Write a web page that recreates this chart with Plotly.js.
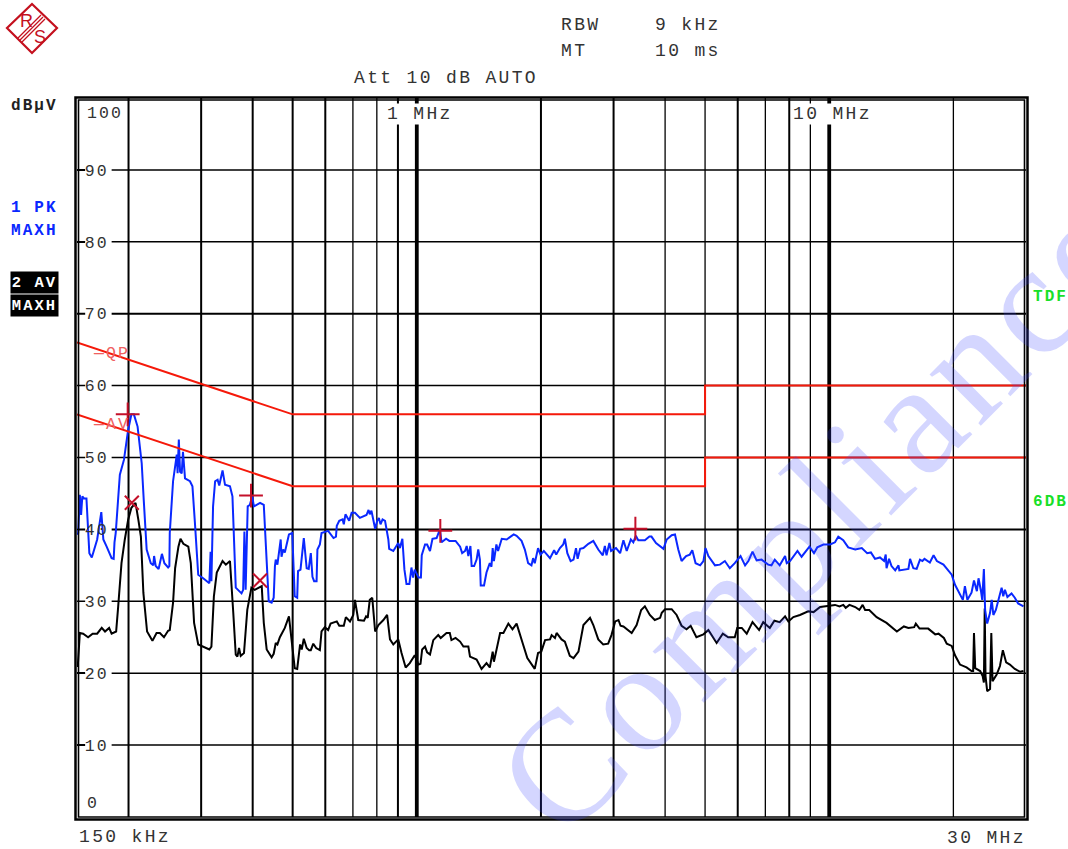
<!DOCTYPE html>
<html>
<head>
<meta charset="utf-8">
<script src="https://cdn.plot.ly/plotly-3.0.1.min.js"></script>
<style>
html,body{margin:0;padding:0;background:#fff;overflow:hidden}
#plot{width:1068px;height:849px}
svg text{letter-spacing:.13em}
svg text[style*="Liberation Serif"]{letter-spacing:.04em}
svg text[style*="Liberation Sans"]{letter-spacing:0}
</style>
</head>
<body>
<div id="plot"></div>
<script>
// [log10(Hz), dBuV]
const peakTrace=[[5.176,39.3],[5.179,39.5],[5.183,44.8],[5.186,42],[5.189,44.6],[5.193,44.3],[5.199,44.3],[5.206,36.7],[5.212,36.1],[5.225,38.6],[5.235,42.4],[5.240,38.6],[5.248,37.6],[5.260,36],[5.265,35.9],[5.267,38.2],[5.270,39.5],[5.280,47.6],[5.290,49.7],[5.300,53.8],[5.308,56],[5.314,56],[5.323,54.3],[5.333,49.2],[5.338,44],[5.345,37.2],[5.355,35.3],[5.361,35],[5.363,36.3],[5.367,34.9],[5.374,34.5],[5.382,36.6],[5.388,35.3],[5.397,34.7],[5.400,34.9],[5.401,39.5],[5.409,46.7],[5.418,50.4],[5.420,47.8],[5.423,52.5],[5.426,48],[5.430,47.8],[5.433,50.8],[5.438,47.1],[5.450,46.7],[5.456,46],[5.462,40.9],[5.470,33.7],[5.482,33.2],[5.497,32.5],[5.500,36.9],[5.502,32.8],[5.506,43.2],[5.511,46.7],[5.517,46.9],[5.521,46.1],[5.529,48.2],[5.535,46.2],[5.547,46],[5.553,44.6],[5.561,31.9],[5.575,31.1],[5.579,31.6],[5.582,39.7],[5.585,31.6],[5.590,43.2],[5.595,43.4],[5.601,44.6],[5.605,43.2],[5.611,43.4],[5.620,43.7],[5.629,43.4],[5.641,30],[5.648,29.8],[5.653,30.5],[5.656,34.9],[5.658,35.8],[5.662,35.1],[5.670,38.6],[5.672,36.2],[5.676,37.2],[5.680,36.8],[5.690,39.3],[5.698,39.5],[5.704,30.7],[5.710,30.5],[5.712,34.2],[5.718,34.4],[5.726,38.8],[5.733,34.6],[5.738,34.5],
[5.743,36.7],[5.747,33.4],[5.751,32.8],[5.757,32.8],[5.759,37.2],[5.765,37.9],[5.769,39.5],[5.785,39.8],[5.798,38.8],[5.804,39],[5.806,40.5],[5.812,41.2],[5.820,41.4],[5.823,40.7],[5.827,42.1],[5.836,41.2],[5.842,42.3],[5.850,42.3],[5.862,41.6],[5.878,42],[5.883,42.7],[5.886,42.1],[5.890,42.6],[5.899,40.1],[5.904,41.2],[5.908,41.6],[5.912,40.7],[5.917,41.4],[5.923,41.2],[5.931,38.6],[5.933,37.3],[5.943,37],[5.955,38.1],[5.959,37.4],[5.965,38.7],[5.970,34.4],[5.975,32.4],[5.982,32.4],[5.987,34.7],[5.991,33.3],[5.995,34.4],[6.004,33.3],[6.010,33.3],[6.012,36.4],[6.020,37.9],[6.025,37.9],[6.032,37],[6.038,38.7],[6.048,38.8],[6.056,40],[6.060,38.2],[6.071,38.7],[6.079,38.4],[6.094,38.4],[6.105,37.6],[6.110,36.7],[6.117,37],[6.121,37.7],[6.125,36.3],[6.130,37.7],[6.133,34.9],[6.139,34.9],[6.145,35.8],[6.149,37.2],[6.153,35.8],[6.155,32.2],[6.163,32.2],[6.169,34],[6.177,35.3],[6.181,34.8],[6.184,37.4],[6.187,35.6],[6.193,37.9],[6.197,37],[6.206,38.7],[6.218,38.6],[6.230,39.1],[6.235,39.3],[6.242,39.1],[6.254,38.4],[6.262,37.2],[6.270,35.3],[6.278,35],[6.282,36],[6.286,35.3],[6.294,37.4],[6.300,36.5],[6.308,37],[6.323,36],
[6.333,37.1],[6.338,36.5],[6.347,37.4],[6.355,37.9],[6.359,38.7],[6.365,36.7],[6.373,35.6],[6.380,35.8],[6.386,37.4],[6.390,35.9],[6.396,37.3],[6.404,37.4],[6.416,38],[6.428,38.4],[6.440,37.2],[6.451,36.4],[6.456,37.7],[6.460,36.4],[6.467,38.1],[6.471,37],[6.483,37.4],[6.493,36.7],[6.501,38.5],[6.509,37],[6.519,38.6],[6.525,38.2],[6.531,39.1],[6.537,38.5],[6.553,38.5],[6.564,39],[6.569,39],[6.580,38.1],[6.598,37.3],[6.606,38.6],[6.618,39.2],[6.626,39.3],[6.634,37.2],[6.642,35.6],[6.653,36.3],[6.662,36.5],[6.668,37.1],[6.676,35.3],[6.687,35],[6.695,35.6],[6.700,37.4],[6.707,36.3],[6.723,35],[6.735,35.1],[6.747,35.6],[6.759,34.6],[6.771,35.3],[6.785,36.3],[6.796,35],[6.804,35.6],[6.814,36.9],[6.824,35.7],[6.836,35.8],[6.852,35.1],[6.860,35],[6.868,35.8],[6.880,35],[6.893,36.3],[6.897,35.3],[6.905,35.6],
[6.909,35.9],[6.923,37],[6.933,36.2],[6.952,37.6],[6.963,36.7],[6.971,37.5],[6.986,37.9],[7.002,37.9],[7.014,38.2],[7.022,39],[7.034,38.5],[7.046,37.5],[7.063,37.2],[7.079,37.4],[7.092,36.7],[7.101,36.8],[7.111,35.9],[7.123,36.1],[7.133,35.6],[7.137,36.5],[7.139,34.6],[7.145,35.9],[7.151,34.9],[7.160,34.3],[7.168,35],[7.170,34.3],[7.192,34.5],[7.196,35.9],[7.204,34.6],[7.212,34.5],[7.220,35.8],[7.226,35.6],[7.231,35.9],[7.244,35.4],[7.253,36.4],[7.261,35.6],[7.277,35.1],[7.289,34.2],[7.297,33.7],[7.305,32.3],[7.317,30.9],[7.324,30.2],[7.329,32.1],[7.335,30.2],[7.345,31.2],[7.351,32.9],[7.358,31.4],[7.362,33.2],[7.368,31.4],[7.371,30.2],[7.375,34.5],[7.378,28.8],[7.383,26.9],[7.390,28.4],[7.394,30.2],[7.398,28.1],[7.404,28.8],[7.410,30.2],[7.418,31.9],[7.422,30.7],[7.426,31.6],[7.432,30.6],[7.442,31.1],[7.450,30.5],[7.458,29.7],[7.471,29.3]];

const avgTrace=[[5.176,21],[5.178,21],[5.183,25.6],[5.191,25.5],[5.203,25],[5.214,25.5],[5.225,25.5],[5.236,26.3],[5.244,25.8],[5.254,26.3],[5.260,25.5],[5.271,25.8],[5.276,29.3],[5.284,35.3],[5.292,38.6],[5.300,41.3],[5.308,43],[5.318,43.7],[5.325,41.3],[5.331,39],[5.337,31.2],[5.346,25.8],[5.359,24.5],[5.369,25.6],[5.377,25.6],[5.387,25],[5.397,25.9],[5.401,26],[5.409,29.8],[5.414,34.6],[5.422,37.6],[5.427,38.7],[5.434,38],[5.446,37.6],[5.452,35.3],[5.460,27],[5.470,24],[5.482,23.7],[5.497,23.3],[5.502,23.7],[5.508,30.7],[5.515,34],[5.529,35.6],[5.537,35.1],[5.547,35.6],[5.555,28.4],[5.561,22.6],[5.565,22.3],[5.569,23.5],[5.573,22.4],[5.581,22.8],[5.589,28.8],[5.599,31.9],[5.607,31.6],[5.624,32.1],[5.629,27],[5.636,23.3],[5.648,22.2],[5.653,22.7],[5.658,24.2],[5.662,24],[5.668,25],[5.680,26.3],[5.690,27.9],[5.698,23.5],[5.704,20.7],[5.710,20.6],[5.714,22.8],[5.717,24],[5.721,23.3],[5.726,24.8],[5.733,23.5],[5.739,23.2],
[5.743,23.2],[5.749,24.1],[5.756,23.5],[5.765,23.2],[5.769,25.8],[5.777,26.4],[5.785,26],[5.791,26.9],[5.806,27.2],[5.812,26.6],[5.823,26.6],[5.828,27.8],[5.838,27.2],[5.846,28.1],[5.850,30.2],[5.858,27.4],[5.872,27.3],[5.877,27.9],[5.881,27.7],[5.886,30.2],[5.892,30.5],[5.899,25.8],[5.907,26.7],[5.919,27.4],[5.928,28.1],[5.935,24.7],[5.943,24],[5.955,24.7],[5.963,22.8],[5.973,20.8],[5.983,21.4],[5.995,22.5],[6.004,21.2],[6.009,21.3],[6.013,23.3],[6.020,23.7],[6.025,22.9],[6.032,22.6],[6.040,24.6],[6.052,25.3],[6.058,24.9],[6.072,25.6],[6.080,25.6],[6.084,24.6],[6.094,24.9],[6.105,24.4],[6.113,23.7],[6.125,23.7],[6.129,22.3],[6.137,22.1],[6.145,21.9],[6.157,20.6],[6.169,21.4],[6.177,20.8],[6.184,23],[6.187,21.6],[6.202,25.6],[6.210,25.6],[6.222,26.9],[6.232,26.1],[6.242,26.9],[6.256,24.3],[6.268,22.1],[6.286,20.6],[6.294,22.8],[6.302,23],[6.311,24.6],[6.323,24.7],
[6.327,25.3],[6.335,24.9],[6.339,25.6],[6.351,24.7],[6.359,24.4],[6.371,22.4],[6.380,22.1],[6.392,23],[6.404,26.7],[6.420,27.7],[6.428,26.7],[6.440,24.7],[6.452,24],[6.464,24.1],[6.472,25.3],[6.481,27.2],[6.489,27.4],[6.494,26.6],[6.501,26.5],[6.521,25.6],[6.533,26.7],[6.544,28.8],[6.553,29.3],[6.565,28.1],[6.577,27.4],[6.590,27.7],[6.594,28.4],[6.602,28.9],[6.618,28.9],[6.630,28.1],[6.642,26.6],[6.654,26.1],[6.664,26.6],[6.678,25],[6.695,25.4],[6.707,26],[6.727,24.2],[6.742,25.5],[6.755,25],[6.771,25],[6.777,26.3],[6.788,26.3],[6.800,25.5],[6.814,27.1],[6.830,26],[6.840,27.1],[6.856,26.3],[6.867,27.3],[6.880,27.1],[6.893,27.9],[6.901,27.2],
[6.913,27.8],[6.929,28.1],[6.949,28.6],[6.962,28.5],[6.978,29.2],[7.002,29.4],[7.014,29.5],[7.025,29.3],[7.034,29.5],[7.040,29.1],[7.049,29.5],[7.063,29.2],[7.073,28.8],[7.081,29.5],[7.087,28.8],[7.097,28.8],[7.115,27.8],[7.139,27],[7.164,25.8],[7.181,26.5],[7.192,26.3],[7.206,26.4],[7.210,26.9],[7.219,26.2],[7.240,26.2],[7.257,25.4],[7.265,25.5],[7.278,24.9],[7.285,24.1],[7.297,23.8],[7.305,22.5],[7.317,21.2],[7.333,20.8],[7.345,20.3],[7.349,20.3],[7.351,25.6],[7.354,20.7],[7.366,20.3],[7.372,19.6],[7.375,18.7],[7.377,29],[7.379,19.6],[7.383,17.5],[7.390,17.8],[7.393,25.6],[7.396,18.9],[7.406,19.8],[7.414,21],[7.421,23.2],[7.429,21.5],[7.438,21.2],[7.450,20.6],[7.463,20.2],[7.471,20.3]];

const limitQPx=[150e3,500e3,5e6,5e6,30e6];
const limitQPy=[66,56,56,60,60];
const limitAVx=[150e3,500e3,5e6,5e6,30e6];
const limitAVy=[56,46,46,50,50];
const plusLog=[5.299,5.598,6.057,6.530];
const plusDb=[56,44.7,39.8,40.1];
const crossLog=[5.309,5.620];
const crossDb=[43.7,32.9];
const gridFreqs=[2e5,3e5,4e5,5e5,6e5,7e5,8e5,9e5,1e6,2e6,3e6,4e6,5e6,6e6,7e6,8e6,9e6,1e7,2e7];
const heavyFreqs=[2e5,3e5,4e5,5e5,6e5,9e5,2e6,3e6,6e6,8e6];
const doubleFreqs=[0.995e6,1.005e6,0.995e7,1.005e7];
const yTicks=[10,20,30,40,50,60,70,80,90];
const heavyDb=[70,40];

const X=v=>(v-77)/949, Y=v=>(817-v)/719;
const pow=a=>a.map(v=>Math.pow(10,v));
const MONO='"Liberation Mono",monospace';

const traces=[
 {x:pow(avgTrace.map(p=>p[0])),y:avgTrace.map(p=>p[1]),name:'2 AV MAXH',mode:'lines',line:{color:'#000000',width:2}},
 {x:pow(peakTrace.map(p=>p[0])),y:peakTrace.map(p=>p[1]),name:'1 PK MAXH',mode:'lines',line:{color:'#0a28ff',width:2}},
 {x:limitQPx,y:limitQPy,name:'QP',mode:'lines',line:{color:'#f5190a',width:2}},
 {x:limitAVx,y:limitAVy,name:'AV',mode:'lines',line:{color:'#f5190a',width:2}},
 {x:pow(plusLog),y:plusDb,name:'peak markers',mode:'markers',marker:{symbol:'cross-thin-open',size:17,line:{color:'#c4102a',width:2},color:'#c4102a'}},
 {x:pow(crossLog),y:crossDb,name:'avg markers',mode:'markers',marker:{symbol:'x-thin-open',size:14,line:{color:'#c4102a',width:2},color:'#c4102a'}}
];

const shapes=[];
const vline=(f,w)=>shapes.push({type:'line',xref:'x',yref:'y',x0:f,x1:f,y0:0,y1:100,layer:'below',line:{color:'#000',width:w}});
const hline=(d,w)=>shapes.push({type:'line',xref:'x',yref:'y',x0:150e3,x1:30e6,y0:d,y1:d,layer:'below',line:{color:'#000',width:w}});
gridFreqs.forEach(f=>vline(f,heavyFreqs.includes(f)?2:1.3));
doubleFreqs.forEach(f=>vline(f,2));
yTicks.forEach(d=>hline(d,heavyDb.includes(d)?2:1.5));
yTicks.forEach(d=>shapes.push({type:'rect',xref:'x',yref:'y',x0:157e3,x1:182e3,y0:d-1.2,y1:d+1.2,layer:'below',fillcolor:'#fff',line:{width:0}}));
// double frame
shapes.push({type:'rect',xref:'paper',yref:'paper',x0:X(75.5),x1:X(1027.5),y0:Y(819.5),y1:Y(97.5),layer:'above',line:{color:'#000',width:2.5}});
shapes.push({type:'rect',xref:'paper',yref:'paper',x0:X(78.5),x1:X(1024.5),y0:Y(817),y1:Y(100),layer:'above',line:{color:'#000',width:1.6}});
// logo
const path=pts=>'M'+pts.map(p=>X(p[0])+' '+Y(p[1])).join(' L')+' Z';
const logoRed='#c4101e';
shapes.push({type:'path',xref:'paper',yref:'paper',path:path([[32,4],[57,28],[32,53],[7,28]]),line:{color:logoRed,width:2.2}});
[0,2,4].forEach(k=>shapes.push({type:'line',xref:'paper',yref:'paper',x0:X(18+k),y0:Y(38+k),x1:X(41+k),y1:Y(15+k),line:{color:logoRed,width:1.3}}));

const T=(text,x,y,o={})=>Object.assign({text,xref:'paper',yref:'paper',x:X(x),y:Y(y),xanchor:'left',yanchor:'middle',showarrow:false,borderpad:0,
  font:{family:o.family||MONO,size:o.size||18,color:o.color||'#333',weight:o.weight||400}},o.extra||{});
const boxed={bgcolor:'#000',width:47,height:21,align:'center',valign:'middle'};
const annotations=[
 {text:'Compliance',xref:'paper',yref:'paper',x:X(816),y:Y(514),xanchor:'center',yanchor:'middle',textangle:-45,showarrow:false,
  font:{family:'"Liberation Serif",serif',size:158,color:'rgba(60,70,255,0.22)'}},
 T('RBW',560,25),T('9 kHz',654,25),T('MT',560,51),T('10 ms',654,51),T('Att 10 dB AUTO',353,78),
 T('dBµV',10,106,{size:16,color:'#222',weight:700}),
 T('1 PK',10,208,{size:16,color:'#0a28ff',weight:700}),
 T('MAXH',10,231,{size:16,color:'#0a28ff',weight:700}),
 T('2 AV',10,282.5,{size:15.5,color:'#fff',weight:700,extra:boxed}),
 T('MAXH',10,305.5,{size:15.5,color:'#fff',weight:700,extra:boxed}),
 T('TDF',1032,297,{size:16,color:'#18e028',weight:700}),
 T('6DB',1032,502,{size:16,color:'#18e028',weight:700}),
 T('100',86,114,{size:16.5}),T('0',86,803,{size:16.5}),
 T('1 MHz',386,114,{extra:{bgcolor:'#fff'}}),T('10 MHz',792,114,{extra:{bgcolor:'#fff'}}),
 T('150 kHz',78,837),T('30 MHz',946,838),
 T('—QP',92,353,{size:16.5,color:'#f06060'}),T('—AV',92,425,{size:16.5,color:'#f06060'}),
 T('R',19,21,{size:18,color:logoRed,family:'"Liberation Sans",sans-serif'}),T('S',33,37,{size:18,color:logoRed,family:'"Liberation Sans",sans-serif'})
];

const layout={
 width:1068,height:849,showlegend:false,paper_bgcolor:'#fff',plot_bgcolor:'#fff',
 margin:{l:77,r:42,t:98,b:32,pad:0},
 xaxis:{type:'log',range:[Math.log10(150e3),Math.log10(30e6)],tickmode:'array',tickvals:gridFreqs,showticklabels:false,ticks:'',
   showgrid:false,zeroline:false,showline:false},
 yaxis:{type:'linear',range:[0,100],tickmode:'array',tickvals:yTicks,ticktext:yTicks.map(String),ticks:'inside',ticklen:8,tickwidth:1.5,tickcolor:'#000',
   ticklabelposition:'inside',tickfont:{family:MONO,size:16.5,color:'#333'},showgrid:false,zeroline:false,showline:false},
 shapes,annotations
};
Plotly.newPlot('plot',traces,layout,{staticPlot:true,displayModeBar:false});
</script>
</body>
</html>
